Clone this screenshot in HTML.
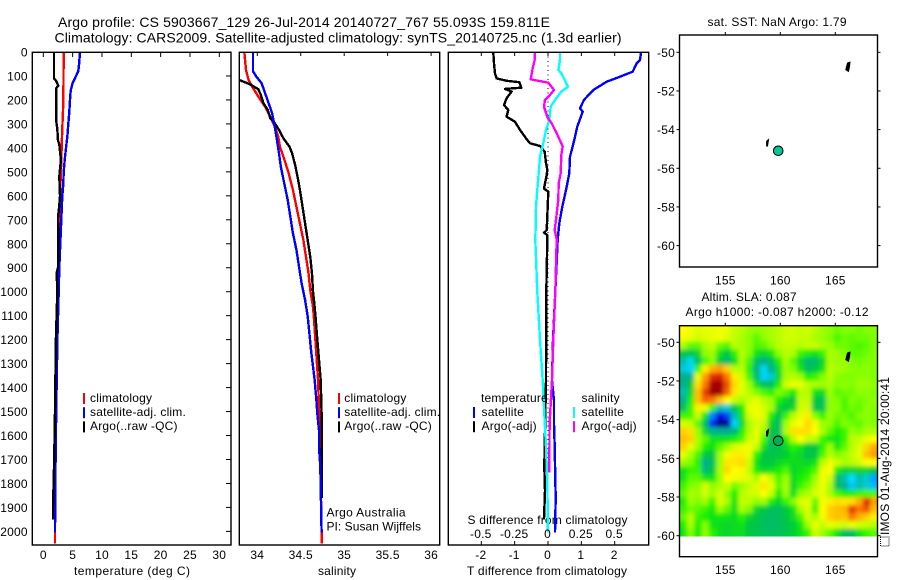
<!DOCTYPE html>
<html>
<head>
<meta charset="utf-8">
<title>Argo profile</title>
<style>
html,body{margin:0;padding:0;background:#fff;}
svg{display:block;}
text{font-family:"Liberation Sans",sans-serif;font-size:12px;fill:#000;letter-spacing:.2px;}
text[textLength]{letter-spacing:0;}
.t14{font-size:14px;}
</style>
</head>
<body>
<svg id="chart" width="900" height="580" viewBox="0 0 900 580" xmlns="http://www.w3.org/2000/svg">
  <defs>
    <clipPath id="clip-t"><rect x="32" y="52" width="199" height="493"/></clipPath>
    <clipPath id="clip-s"><rect x="239" y="52" width="201" height="493"/></clipPath>
    <clipPath id="clip-d"><rect x="448" y="52" width="201" height="493"/></clipPath>
    <clipPath id="clip-h"><rect x="679.5" y="326" width="198" height="210.5"/></clipPath>
    <filter id="soften" x="-5%" y="-5%" width="110%" height="110%"><feGaussianBlur stdDeviation="2"/></filter>
  </defs>
  <text class="t14" x="58" y="27" textLength="492" lengthAdjust="spacing">Argo profile: CS 5903667_129 26-Jul-2014 20140727_767 55.093S 159.811E</text>
  <text class="t14" x="54.5" y="42.5" textLength="567" lengthAdjust="spacing">Climatology: CARS2009. Satellite-adjusted climatology: synTS_20140725.nc (1.3d earlier)</text>
  <text x="707.5" y="26" textLength="139" lengthAdjust="spacing">sat. SST: NaN Argo: 1.79</text>
  <text x="701.5" y="301" textLength="95" lengthAdjust="spacing">Altim. SLA: 0.087</text>
  <text x="685.5" y="316" textLength="183" lengthAdjust="spacing">Argo h1000: -0.087 h2000: -0.12</text>
  <text x="74" y="575" textLength="116" lengthAdjust="spacing">temperature (deg C)</text>
  <text x="318" y="575" textLength="38" lengthAdjust="spacing">salinity</text>
  <text x="467" y="575" textLength="160" lengthAdjust="spacing">T difference from climatology</text>
  <text x="467.5" y="524" textLength="160" lengthAdjust="spacing">S difference from climatology</text>
  <text x="326.5" y="516.5" textLength="79" lengthAdjust="spacing">Argo Australia</text>
  <text x="326.5" y="530.5" textLength="94.5" lengthAdjust="spacing">PI: Susan Wijffels</text>
  <g>
    <rect x="880.5" y="537" width="8.5" height="9" fill="none" stroke="#000" stroke-width="1" stroke-dasharray="1 1"/>
    <text transform="translate(889,535) rotate(-90)" textLength="158" lengthAdjust="spacing">IMOS 01-Aug-2014 20:00:41</text>
  </g>
</svg>
<script>
/* ---------- depth axis ---------- */
var depthTicks = [0,100,200,300,400,500,600,700,800,900,1000,1100,1200,1300,1400,1500,1600,1700,1800,1900,2000];

/* ---------- temperature panel ---------- */
var tempTicks = [0,5,10,15,20,25,30];
var tempClimDepth = [0,100,200,340,500,600,800,1000,1200,1500,1800,2000,2050];
var tempClim = [3.47,3.45,3.42,3.2,3.0,2.85,2.6,2.4,2.25,2.1,2.03,2.0,2.0];
var tempSatDepth = [0,50,80,100,130,160,200,250,300,350,400,450,500,550,600,700,800,900,1000,1200,1500,1800,2005];
var tempSat = [6.25,6.1,5.97,5.57,5.0,4.67,4.55,4.43,4.26,4.1,3.87,3.64,3.47,3.41,3.24,3.07,2.9,2.73,2.62,2.4,2.2,2.05,2.0];
var tempArgoDepth = [0,110,120,140,150,200,290,320,370,385,450,520,600,640,690,800,900,920,1000,1200,1500,1700,1900,1950];
var tempArgo = [1.82,1.82,2.17,2.56,2.22,2.22,2.22,2.39,2.5,2.73,3.0,2.73,2.85,2.73,2.5,2.56,2.5,2.28,2.39,2.15,2.0,1.85,1.65,1.65];

/* ---------- salinity panel ---------- */
var salTicks = [34,34.5,35,35.5,36];
var salClimDepth = [0,75,117,150,185,228,270,310,353,395,436,505,575,645,715,785,855,925,995,1060,1103,1370,1600,2000,2050];
var salClim = [33.85,33.87,33.9,33.95,34.01,34.09,34.15,34.2,34.24,34.26,34.3,34.36,34.41,34.45,34.49,34.53,34.56,34.59,34.61,34.64,34.65,34.7,34.72,34.74,34.74];
var salSatDepth = [0,80,103,130,172,213,255,310,353,422,478,547,617,686,755,825,895,965,1035,1103,1250,1370,1453,1508,1578,1648,1730,1815,1925,2005];
var salSat = [33.95,33.95,33.99,34.05,34.09,34.13,34.17,34.2,34.22,34.25,34.27,34.31,34.35,34.38,34.41,34.45,34.48,34.51,34.55,34.58,34.62,34.66,34.68,34.69,34.71,34.71,34.725,34.73,34.735,34.74];
var salArgoDepth = [0,110,118,125,135,155,178,213,241,276,297,325,360,395,422,478,533,575,645,715,785,855,925,995,1065,1103,1200,1370,1508,1860];
var salArgo = [33.75,33.77,33.8,33.85,33.92,34.01,34.04,34.07,34.12,34.15,34.2,34.25,34.3,34.37,34.4,34.44,34.47,34.49,34.52,34.55,34.58,34.61,34.63,34.64,34.66,34.67,34.69,34.73,34.74,34.74];

/* ---------- difference panel ---------- */
var diffTTicks = [-2,-1,0,1,2];
var diffSTicks = [-0.5,-0.25,0,0.25,0.5];
var diffSTickLabels = ['-0.5','-0.25','0','0.25','0.5'];
var dTSatDepth = [3,33,47,82,103,124,158,200,235,249,311,367,437,506,576,645,715,782,1000,1200,1370,1453,1550,1648,1787,1856,2005];
var dTSat = [2.79,2.76,2.66,2.54,2.16,1.76,1.36,1.08,0.96,1.04,0.88,0.79,0.66,0.64,0.54,0.43,0.34,0.29,0.22,0.15,0.12,0.18,0.18,0.2,0.22,0.23,0.21];
var dTArgoDepth = [3,47,89,110,120,126,149,154,165,193,221,242,270,291,325,360,381,392,416,464,492,513,570,583,645,743,754,764,782,1000,1370,1730,1830,1950];
var dTArgo = [-1.64,-1.62,-1.59,-1.54,-1.24,-0.86,-0.8,-1.29,-1.09,-1.24,-1.32,-1.19,-1.24,-0.99,-0.84,-0.66,-0.54,-0.24,-0.1,-0.06,-0.02,-0.04,-0.12,0.01,-0.01,-0.04,-0.12,-0.02,-0.02,-0.05,-0.06,-0.11,-0.09,-0.12];
var dSSatDepth = [3,33,75,89,110,145,165,200,228,284,325,381,437,506,576,645,728,782,1000,1200,1370,1508,1648,1787,2005];
var dSSat = [0.09,0.09,0.078,0.1,0.12,0.15,0.1,0.053,0.02,0.01,-0.015,-0.035,-0.06,-0.07,-0.08,-0.09,-0.0925,-0.095,-0.08,-0.06,-0.04,-0.0275,-0.015,-0.005,0];
var dSArgoDepth = [3,33,68,114,120,128,158,179,200,228,270,298,339,381,395,430,506,548,617,700,742,782,1000,1200,1370,1550,1755];
var dSArgo = [-0.0975,-0.1,-0.115,-0.13,-0.0725,0.0025,0.045,0.015,-0.0225,-0.03,-0.005,0.0275,0.065,0.1,0.11,0.1,0.095,0.08,0.0775,0.06,0.05,0.065,0.055,0.04,0.03,0.012,0.01];
var zeroLineDepth = [0,1900];

/* ---------- map panels ---------- */
var lonTicks = [155,160,165];
var latTicks = [-50,-52,-54,-56,-58,-60];
var argoLon = 159.811;
var argoLat = -55.093;
var islandA = [[166.35,-50.5],[166.1,-50.55],[165.95,-50.9],[166.2,-51.0],[166.3,-50.75]];
var islandB = [[158.95,-54.5],[158.75,-54.6],[158.75,-54.85],[158.85,-54.85]];

/* sea level anomaly in cm, north to south, west to east */
var slaGrid = [
[10,9,7,8,8,9,8,5,4,2,1,2,3,4,6,6,5,6,4,2,1,-1,0,0,-1,0,0],
[9,8,6,7,8,9,7,5,3,1,-2,1,3,4,6,6,5,5,3,2,0,-3,-1,-2,-1,-1,0],
[3,-2,-2,3,5,-1,-3,4,3,1,-3,-2,1,4,5,5,4,5,5,3,2,-1,-1,-2,-3,-2,0],
[-12,-13,-10,1,2,-8,-12,-5,4,0,-8,-10,-7,1,4,3,-4,-6,-8,-4,3,2,0,-2,-2,-1,0],
[-20,-24,-14,-3,1,-12,-16,-9,3,-3,-14,-18,-14,-6,3,-2,-10,-16,-15,-10,3,2,2,0,-1,0,0],
[-22,-26,-4,12,20,22,16,4,4,-5,-17,-24,-18,-9,2,0,-8,-14,-12,-8,4,3,2,1,0,1,0],
[-18,-18,8,22,34,36,26,12,6,-3,-15,-26,-22,-10,3,4,2,-6,-4,0,4,1,0,0,1,1,0],
[-18,-12,14,26,44,46,30,15,8,2,-8,-14,-14,-6,6,8,8,4,3,2,3,0,1,0,2,2,1],
[-20,-10,18,32,46,44,28,13,7,4,0,-3,-5,0,-2,-7,4,4,-8,-9,2,-2,-1,-1,1,1,0],
[-18,-6,18,28,26,18,10,5,3,6,8,4,2,-6,-10,-12,5,5,-12,-14,1,0,-3,0,-1,0,1],
[-14,-4,12,8,-4,-20,-22,-13,-6,8,9,6,3,-10,-12,-10,6,6,-13,-13,1,1,-3,-1,-2,1,0],
[-4,-3,5,-8,-32,-42,-36,-20,-8,6,9,7,-6,-13,-4,4,8,12,0,-4,2,-1,-1,-3,0,1,0],
[6,5,-2,-14,-38,-50,-48,-26,-10,3,7,5,-10,-14,2,8,10,15,9,2,1,-3,0,-1,-2,1,0],
[16,14,2,-10,-17,-18,-18,-16,-6,3,8,2,-12,-14,4,14,14,14,10,3,-2,-6,-4,2,0,3,3],
[18,16,3,-2,-8,-8,-8,-6,-3,6,8,-3,-14,-14,-6,4,10,5,4,-4,-7,-8,-4,4,5,8,10],
[16,8,2,-6,-8,-2,2,6,8,9,5,-8,-14,-13,-10,-5,-7,-12,-12,-5,2,-7,-2,4,7,15,20],
[8,3,-3,-12,-12,2,9,12,12,8,-5,-12,-13,-12,-11,-8,-10,-13,-12,-3,4,0,2,5,8,18,22],
[2,0,-5,-18,-14,2,13,13,15,6,-8,-12,-12,-10,-8,-9,-9,-10,-8,4,9,6,3,4,6,10,10],
[-8,-4,-4,-16,-12,3,15,10,11,5,-6,-10,-8,-6,-3,-10,-8,-6,-3,8,10,-6,-10,-10,-10,-10,-12],
[-8,-2,-2,-7,-8,2,10,9,8,7,3,10,5,-3,2,-9,-6,-4,2,9,6,-14,-20,-25,-20,-22,-30],
[-4,0,1,6,1,3,6,-1,2,5,7,13,8,-2,3,-10,-4,-1,4,9,3,-14,-18,-27,-20,-22,-28],
[-2,3,2,6,2,7,1,-6,4,6,6,10,5,-6,2,-9,1,3,7,8,3,-3,-6,-6,-4,-3,-3],
[-6,2,0,2,-4,7,3,-8,5,4,1,2,-6,-10,-4,0,7,8,-2,9,12,14,13,14,20,35,22],
[-4,-1,-2,-4,-7,2,-2,-8,3,0,-10,-12,-14,-14,-12,-8,3,7,-4,10,16,18,19,34,26,30,18],
[-2,4,-4,-6,-8,-7,-8,-9,-5,-10,-12,-14,-15,-14,-12,-9,-3,6,3,9,16,18,17,26,20,16,12],
[-6,3,-6,0,-8,-9,-10,-9,-8,-12,-13,-14,-15,-14,-13,-11,-7,2,8,5,8,7,6,8,6,5,4],
[-8,0,-7,1,-5,-9,-10,-9,-9,-12,-13,-14,-14,-14,-13,-11,-8,-4,6,2,-2,-8,-14,-15,-8,-4,-2]
];
var slaColorValues = [-50,-40,-30,-25,-18,-12,-6,0,6,10,18,25,35,45];
var slaColorRamp = [[0,0,128],[0,0,255],[0,160,255],[0,224,255],[0,176,144],[0,200,64],[20,240,0],[128,255,0],[208,255,0],[255,255,0],[255,192,0],[255,128,0],[224,32,0],[160,0,0]];

/* ---------- axis functions ---------- */
var svg = document.getElementById('chart');
var NS = 'http://www.w3.org/2000/svg';
function yDepth(d){ return 52 + d * 0.2397; }
function xTemp(v){ return 43.3 + v * 5.867; }
function xSal(v){ return 257.3 + (v - 34) * 86.9; }
function xDiffT(v){ return 548 + v * 33.35; }
function xDiffS(v){ return 548 + v * 133.4; }
function xLon(v){ return 725.3 + (v - 155) * 11; }
function yLatTop(v){ return 52.3 + (-50 - v) * 19.33; }
function yLatLow(v){ return 342.3 + (-50 - v) * 19.34; }

function addLine(parent, x1, y1, x2, y2, name, w){
  var el = document.createElementNS(NS, 'line');
  el.setAttribute('x1', x1);
  el.setAttribute('y1', y1);
  el.setAttribute('x2', x2);
  el.setAttribute('y2', y2);
  el.setAttribute('stroke', '#000');
  el.setAttribute('stroke-width', w || 1);
  
  
  parent.appendChild(el);
  return el;
}
function addText(parent, x, y, str, anchor, name){
  var el = document.createElementNS(NS, 'text');
  el.setAttribute('x', x);
  el.setAttribute('y', y);
  if (anchor) el.setAttribute('text-anchor', anchor);
  el.textContent = str;
  
  
  parent.appendChild(el);
  return el;
}
function addFrame(x, y, w, h, name){
  var el = document.createElementNS(NS, 'rect');
  el.setAttribute('x', x);
  el.setAttribute('y', y);
  el.setAttribute('width', w);
  el.setAttribute('height', h);
  el.setAttribute('fill', 'none');
  el.setAttribute('stroke', '#000');
  el.setAttribute('stroke-width', 1.4);
  
  
  svg.appendChild(el);
}
function addGroup(name, clip){
  var el = document.createElementNS(NS, 'g');
  if (clip) el.setAttribute('clip-path', 'url(#' + clip + ')');
  
  
  svg.appendChild(el);
  return el;
}
function addProfile(parent, depths, vals, xf, color, name){
  var pts = [];
  for (var i = 0; i < depths.length; i++) {
    pts.push(xf(vals[i]).toFixed(1) + ',' + yDepth(depths[i]).toFixed(1));
  }
  var el = document.createElementNS(NS, 'polyline');
  el.setAttribute('points', pts.join(' '));
  el.setAttribute('fill', 'none');
  el.setAttribute('stroke', color);
  el.setAttribute('stroke-width', 2.4);
  el.setAttribute('stroke-linejoin', 'round');
  el.setAttribute('shape-rendering', 'crispEdges');
  
  
  parent.appendChild(el);
}
function addLegendBar(x, y, color, name){
  var el = document.createElementNS(NS, 'rect');
  el.setAttribute('x', x);
  el.setAttribute('y', y);
  el.setAttribute('width', 2);
  el.setAttribute('height', 11);
  el.setAttribute('fill', color);
  
  
  svg.appendChild(el);
}
function slaColor(v){
  var vs = slaColorValues, c = slaColorRamp;
  if (v <= vs[0]) return 'rgb(' + c[0].join(',') + ')';
  for (var i = 1; i < vs.length; i++) {
    if (v <= vs[i]) {
      var f = (v - vs[i-1]) / (vs[i] - vs[i-1]);
      return 'rgb(' + Math.round(c[i-1][0] + f*(c[i][0]-c[i-1][0])) + ',' +
        Math.round(c[i-1][1] + f*(c[i][1]-c[i-1][1])) + ',' +
        Math.round(c[i-1][2] + f*(c[i][2]-c[i-1][2])) + ')';
    }
  }
  return 'rgb(' + c[c.length-1].join(',') + ')';
}

/* ---------- temperature panel ---------- */
var gT = addGroup('temperature-panel-series', 'clip-t');
addProfile(gT, tempClimDepth, tempClim, xTemp, '#ff0000', 'temperature-climatology-line');
addProfile(gT, tempSatDepth, tempSat, xTemp, '#0000ff', 'temperature-satellite-line');
addProfile(gT, tempArgoDepth, tempArgo, xTemp, '#000000', 'temperature-argo-line');
addFrame(32.3, 52.3, 198.7, 492.7, 'temperature-panel-frame');
depthTicks.forEach(function(d){
  addText(svg, 27.8, yDepth(d) + 4.5, String(d), 'end', 'depth-tick-label');
  addLine(svg, 226, yDepth(d), 231, yDepth(d), 'depth-tick');
});
tempTicks.forEach(function(v){
  addText(svg, xTemp(v), 559, String(v), 'middle', 'temperature-tick-label');
  addLine(svg, xTemp(v), 52, xTemp(v), 57, 'temperature-tick');
});

/* ---------- salinity panel ---------- */
var gS = addGroup('salinity-panel-series', 'clip-s');
addProfile(gS, salClimDepth, salClim, xSal, '#ff0000', 'salinity-climatology-line');
addProfile(gS, salArgoDepth, salArgo, xSal, '#000000', 'salinity-argo-line');
addProfile(gS, salSatDepth, salSat, xSal, '#0000ff', 'salinity-satellite-line');
addFrame(239.3, 52.3, 200.4, 492.7, 'salinity-panel-frame');
salTicks.forEach(function(v){
  addText(svg, xSal(v), 559, String(v), 'middle', 'salinity-tick-label');
  addLine(svg, xSal(v), 52, xSal(v), 56, 'salinity-tick');
});

/* ---------- difference panel ---------- */
var gD = addGroup('difference-panel-series', 'clip-d');
var zero = addLine(gD, xDiffT(0), yDepth(zeroLineDepth[0]), xDiffT(0), yDepth(zeroLineDepth[1]), 'zero-difference-line', 1);
zero.setAttribute('stroke-dasharray', '1 3.5');
addProfile(gD, dTSatDepth, dTSat, xDiffT, '#0000ff', 'temperature-difference-satellite-line');
addProfile(gD, dTArgoDepth, dTArgo, xDiffT, '#000000', 'temperature-difference-argo-line');
addProfile(gD, dSSatDepth, dSSat, xDiffS, '#00ffff', 'salinity-difference-satellite-line');
addProfile(gD, dSArgoDepth, dSArgo, xDiffS, '#ff00ff', 'salinity-difference-argo-line');
addFrame(448.3, 52.3, 200.4, 492.7, 'difference-panel-frame');
diffTTicks.forEach(function(v){
  addText(svg, xDiffT(v) - 0.5, 559, String(v), 'middle', 't-difference-tick-label');
  addLine(svg, xDiffT(v), 52, xDiffT(v), 56, 'difference-top-tick');
  addLine(svg, xDiffT(v), 541, xDiffT(v), 545, 't-difference-tick');
});
diffSTicks.forEach(function(v, i){
  addText(svg, xDiffS(v) - 0.5, 538, diffSTickLabels[i], 'middle', 's-difference-tick-label');
});

/* ---------- legends ---------- */
var legendNames = ['climatology','satellite-adj. clim.','Argo(..raw -QC)'];
var legendColors = ['#ff0000','#0000ff','#000000'];
[[83,90],[338,344.3]].forEach(function(pos, p){
  legendNames.forEach(function(label, i){
    addLegendBar(pos[0], 393 + i * 14.2, legendColors[i], 'legend-bar');
    addText(svg, pos[1], 402 + i * 14, label, null, 'legend-entry');
  });
});
addText(svg, 481, 402, 'temperature', null, 'legend-temperature-heading');
addText(svg, 581.5, 402, 'salinity', null, 'legend-salinity-heading');
var diffLegendNames = ['satellite','Argo(-adj)'];
var diffLegendT = ['#0000ff','#000000'];
var diffLegendS = ['#00ffff','#ff00ff'];
diffLegendNames.forEach(function(label, i){
  addLegendBar(473, 407 + i * 14.2, diffLegendT[i], 'legend-bar-temperature');
  addText(svg, 481.5, 416 + i * 14, label, null, 'legend-entry-temperature');
  addLegendBar(573, 407 + i * 14.2, diffLegendS[i], 'legend-bar-salinity');
  addText(svg, 581.5, 416 + i * 14, label, null, 'legend-entry-salinity');
});

/* ---------- SLA heatmap ---------- */
var gClip = addGroup('sla-heatmap-clip', 'clip-h');
var gHeat = document.createElementNS(NS, 'g');
gHeat.setAttribute('filter', 'url(#soften)');


gClip.appendChild(gHeat);
var nRows = slaGrid.length, nCols = slaGrid[0].length;
var cellW = 198 / nCols, cellH = 210.5 / nRows;
slaGrid.forEach(function(row, r){
  row.forEach(function(v, c){
    var x = 679.5 + c * cellW, y = 326 + r * cellH, w = cellW + 0.6, h = cellH + 0.6;
    if (c === 0) { x -= 10; w += 10; }
    if (c === nCols - 1) { w += 10; }
    if (r === 0) { y -= 10; h += 10; }
    if (r === nRows - 1) { h += 10; }
    var cell = document.createElementNS(NS, 'rect');
    cell.setAttribute('x', x.toFixed(2));
    cell.setAttribute('y', y.toFixed(2));
    cell.setAttribute('width', w.toFixed(2));
    cell.setAttribute('height', h.toFixed(2));
    cell.setAttribute('fill', slaColor(v));
    
    
    gHeat.appendChild(cell);
  });
});

/* ---------- maps ---------- */
function addIsland(coords, yf, name){
  var pts = coords.map(function(p){ return xLon(p[0]).toFixed(1) + ',' + yf(p[1]).toFixed(1); });
  var el = document.createElementNS(NS, 'polygon');
  el.setAttribute('points', pts.join(' '));
  el.setAttribute('fill', '#000');
  el.setAttribute('stroke', '#000');
  el.setAttribute('stroke-width', 0.8);
  
  
  svg.appendChild(el);
}
function addMarker(yf, fill, name){
  var el = document.createElementNS(NS, 'circle');
  el.setAttribute('cx', xLon(argoLon));
  el.setAttribute('cy', yf(argoLat));
  el.setAttribute('r', 4.8);
  el.setAttribute('fill', fill);
  el.setAttribute('stroke', '#000');
  el.setAttribute('stroke-width', 1);
  
  
  svg.appendChild(el);
}
function drawMap(top, bottom, yf, prefix, markerFill){
  addFrame(679.5, top, 198, bottom - top, prefix + '-map-frame');
  lonTicks.forEach(function(v){
    addLine(svg, xLon(v), top - 3, xLon(v), top, prefix + '-lon-tick');
    addText(svg, xLon(v), bottom + 17.5, String(v), 'middle', prefix + '-lon-tick-label');
  });
  latTicks.forEach(function(v){
    addLine(svg, 676.5, yf(v), 679.5, yf(v), prefix + '-lat-tick');
    addLine(svg, 877.5, yf(v), 880.5, yf(v), prefix + '-lat-tick-right');
    addText(svg, 675, yf(v) + 4.5, String(v), 'end', prefix + '-lat-tick-label');
  });
  addIsland(islandA, yf, prefix + '-island-a');
  addIsland(islandB, yf, prefix + '-island-b');
  addMarker(yf, markerFill, prefix + '-argo-position');
}
drawMap(35, 267, yLatTop, 'sst', '#00c896');
drawMap(325.7, 556.7, yLatLow, 'sla', '#00b050');
</script>
</body>
</html>
